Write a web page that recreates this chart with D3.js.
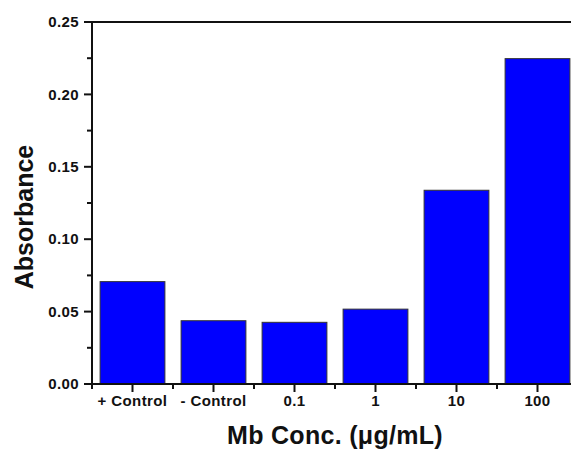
<!DOCTYPE html>
<html>
<head>
  <meta charset="utf-8">
  <title>Absorbance vs Mb Conc.</title>
  <script src="https://cdn.jsdelivr.net/npm/d3@7"></script>
  <style>
  body { margin: 0; background: #fff; }
  text { font-family: "Liberation Sans", Arial, sans-serif; font-weight: bold; fill: #111; }
  .tickLabel { font-size: 15px; letter-spacing: 0.4px; }
  .axisTitle { font-size: 25px; }
  .xTitle { letter-spacing: 0.3px; }
  .axisLine { stroke: #111; stroke-width: 2; }
  </style>
</head>
<body>
<script>
  // data
  const categories = ["+ Control", "- Control", "0.1", "1", "10", "100"];
  const absorbance = [0.0707, 0.0437, 0.0426, 0.0517, 0.1338, 0.2247];
  const yTicks = [0.00, 0.05, 0.10, 0.15, 0.20, 0.25];
  const yMinorTicks = [0.025, 0.075, 0.125, 0.175, 0.225];

  const width = 571, height = 451;
  const margin = { top: 22, left: 92, bottom: 67 };
  const plotRight = 578;

  const svg = d3.select("body").append("svg")
    .attr("width", width)
    .attr("height", height);

  const x = d3.scaleBand()
    .domain(categories)
    .range([margin.left, plotRight])
    .paddingInner(0.2)
    .paddingOuter(0.1);

  const y = d3.scaleLinear()
    .domain([0, 0.25])
    .range([height - margin.bottom, margin.top]);

  // bars
  svg.append("g")
    .selectAll("rect")
    .data(categories)
    .enter()
    .append("rect")
    .attr("x", d => x(d))
    .attr("width", x.bandwidth())
    .attr("y", (d, i) => y(absorbance[i]))
    .attr("height", (d, i) => y(0) - y(absorbance[i]))
    .attr("fill", "#0000ff")
    .attr("stroke", "#333")
    .attr("stroke-width", 1);

  // y axis (minor ticks first, then major with labels)
  const yAxisG = svg.append("g");
  yAxisG.selectAll(".minor")
    .data(yMinorTicks)
    .enter()
    .append("line")
    .attr("class", "axisLine")
    .attr("x1", margin.left - 5).attr("x2", margin.left)
    .attr("y1", d => y(d)).attr("y2", d => y(d));

  yAxisG.selectAll(".major")
    .data(yTicks)
    .enter()
    .append("line")
    .attr("class", "axisLine")
    .attr("x1", margin.left - 8).attr("x2", margin.left)
    .attr("y1", d => y(d)).attr("y2", d => y(d));

  yAxisG.selectAll("text")
    .data(yTicks)
    .enter()
    .append("text")
    .attr("class", "tickLabel")
    .attr("x", margin.left - 13)
    .attr("y", d => y(d))
    .attr("dy", "0.35em")
    .attr("text-anchor", "end")
    .text(d => d3.format(".2f")(d));

  // x axis
  const xAxisG = svg.append("g");
  const step = x.step();
  const boundaries = d3.range(categories.length + 1).map(i => margin.left + i * step);

  xAxisG.selectAll(".minor")
    .data(boundaries)
    .enter()
    .append("line")
    .attr("class", "axisLine")
    .attr("x1", d => d).attr("x2", d => d)
    .attr("y1", y(0)).attr("y2", y(0) + 5);

  xAxisG.selectAll(".major")
    .data(categories)
    .enter()
    .append("line")
    .attr("class", "axisLine")
    .attr("x1", d => x(d) + x.bandwidth() / 2).attr("x2", d => x(d) + x.bandwidth() / 2)
    .attr("y1", y(0)).attr("y2", y(0) + 8);

  xAxisG.selectAll("text")
    .data(categories)
    .enter()
    .append("text")
    .attr("class", "tickLabel")
    .attr("x", d => x(d) + x.bandwidth() / 2)
    .attr("y", y(0) + 22)
    .attr("text-anchor", "middle")
    .text(d => d);

  // frame: left, bottom, top
  svg.append("line").attr("class", "axisLine")
    .attr("x1", margin.left).attr("x2", margin.left)
    .attr("y1", y(0.25)).attr("y2", y(0));
  svg.append("line").attr("class", "axisLine")
    .attr("x1", margin.left - 8).attr("x2", plotRight)
    .attr("y1", y(0)).attr("y2", y(0));
  svg.append("line").attr("class", "axisLine")
    .attr("x1", margin.left - 8).attr("x2", plotRight)
    .attr("y1", y(0.25)).attr("y2", y(0.25));

  // axis titles
  svg.append("text")
    .attr("class", "axisTitle xTitle")
    .attr("x", 335)
    .attr("y", 444)
    .attr("text-anchor", "middle")
    .text("Mb Conc. (\u03bcg/mL)");

  svg.append("text")
    .attr("class", "axisTitle")
    .attr("transform", "translate(33," + ((y(0) + y(0.25)) / 2 + 14) + ") rotate(-90)")
    .attr("text-anchor", "middle")
    .text("Absorbance");
</script>
</body>
</html>
